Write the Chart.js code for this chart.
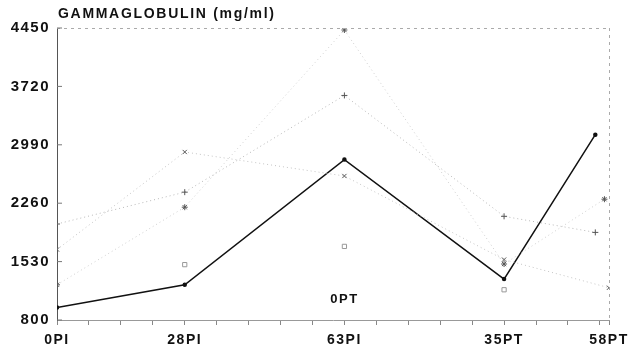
<!DOCTYPE html>
<html lang="en">
<head>
    <meta charset="UTF-8">
    <title>Gammaglobulin</title>
    <script src="https://cdn.jsdelivr.net/npm/chart.js"></script>
    <style>
        body { margin: 0; background: #fff; }
        canvas { display: block; }
    </style>
</head>
<body>
    <canvas id="gammaChart" width="628" height="349"></canvas>

    <script>
        // Axis labels / ticks
        const titleText = 'GAMMAGLOBULIN (mg/ml)';
        const tickDays = [0, 28, 63, 98, 121];
        const tickNames = ['0PI', '28PI', '63PI', '35PT', '58PT'];
        const minorDays = [7, 14, 21, 35, 42, 49, 56, 70, 77, 84, 91, 105, 112, 119];
        const yTicks = [800, 1530, 2260, 2990, 3720, 4450];

        // Sampling days (x) for each series
        const daysA = [0, 28, 63, 98, 118];
        const daysB = [0, 28, 63, 98, 121];
        const daysC = [0, 28, 63, 98, 120];
        const squareDays = [28, 63, 98];

        // Series values (mg/ml)
        const serBlack = [955, 1240, 2805, 1312, 3116];
        const serPlus = [2000, 2398, 3607, 2096, 1895];
        const serCross = [1681, 2900, 2600, 1555, 1203];
        const serStar = [1240, 2210, 4425, 1500, 2310];
        const serSquare = [1492, 1720, 1178];

        const toPoints = (days, vals) => vals.map((v, i) => ({ x: days[i], y: v }));

        const fontFam = '"Liberation Sans", Arial, sans-serif';

        // old plotter lettering is spaced out a bit
        const spacing = {
            id: 'spacing',
            beforeUpdate(chart) { chart.ctx.letterSpacing = '1.5px'; },
            beforeDraw(chart) { chart.ctx.letterSpacing = '1.5px'; }
        };

        // dashed frame on top / right, plus title and 0PT note
        const extras = {
            id: 'extras',
            afterDraw(chart) {
                const { ctx, chartArea: a, scales } = chart;
                ctx.save();
                ctx.strokeStyle = '#aaa';
                ctx.lineWidth = 1;
                ctx.setLineDash([3, 4]);
                ctx.beginPath();
                ctx.moveTo(a.left, a.top + 0.5);
                ctx.lineTo(a.right, a.top + 0.5);
                ctx.moveTo(a.right + 0.5, a.top);
                ctx.lineTo(a.right + 0.5, a.bottom);
                ctx.stroke();
                ctx.setLineDash([]);

                // small inner ticks on y axis
                ctx.strokeStyle = '#777';
                yTicks.forEach(t => {
                    const y = scales.y.getPixelForValue(t);
                    ctx.beginPath();
                    ctx.moveTo(a.left, y);
                    ctx.lineTo(a.left + 5, y);
                    ctx.stroke();
                });

                ctx.fillStyle = '#111';
                ctx.letterSpacing = '1.7px';
                ctx.font = 'bold 14px ' + fontFam;
                ctx.textAlign = 'left';
                ctx.textBaseline = 'alphabetic';
                ctx.fillText(titleText, a.left + 1, a.top - 10);

                ctx.letterSpacing = '1.5px';
                ctx.font = 'bold 13px ' + fontFam;
                ctx.textAlign = 'center';
                ctx.textBaseline = 'middle';
                ctx.fillText('0PT', scales.x.getPixelForValue(63), scales.y.getPixelForValue(1052));
                ctx.restore();
            }
        };

        const faint = (label, data, style, lineColor) => ({
            label: label,
            data: data,
            borderColor: lineColor,
            borderWidth: 1,
            borderDash: [1, 3],
            pointStyle: style,
            pointRadius: 3,
            pointBorderColor: '#555',
            pointBackgroundColor: 'rgba(0,0,0,0)',
            pointBorderWidth: 1,
            tension: 0
        });

        new Chart(document.getElementById('gammaChart'), {
            type: 'line',
            data: {
                datasets: [
                    faint('A', toPoints(daysA, serPlus), 'cross', '#b8b8b8'),
                    faint('B', toPoints(daysB, serCross), 'crossRot', '#c4c4c4'),
                    faint('C', toPoints(daysC, serStar), 'star', '#cfcfcf'),
                    {
                        label: 'D',
                        data: toPoints(squareDays, serSquare),
                        showLine: false,
                        pointStyle: 'rect',
                        pointRadius: 3,
                        pointBorderColor: '#999',
                        pointBackgroundColor: 'rgba(0,0,0,0)',
                        pointBorderWidth: 1
                    },
                    {
                        label: 'Main',
                        data: toPoints(daysA, serBlack),
                        borderColor: '#111',
                        borderWidth: 1.5,
                        pointRadius: 1.5,
                        pointBackgroundColor: '#111',
                        pointBorderColor: '#111',
                        tension: 0
                    }
                ]
            },
            options: {
                responsive: false,
                animation: false,
                layout: { padding: { top: 28, right: 0, left: 0, bottom: 0 } },
                plugins: {
                    legend: { display: false },
                    tooltip: { enabled: false }
                },
                scales: {
                    x: {
                        type: 'linear',
                        min: 0,
                        max: 121,
                        afterBuildTicks: s => {
                            s.ticks = tickDays.concat(minorDays).sort((a, b) => a - b).map(v => ({ value: v }));
                        },
                        afterFit: s => {
                            s.height = 29;
                            s.paddingLeft = 0;
                            s.paddingRight = 19;
                        },
                        ticks: {
                            autoSkip: false,
                            maxRotation: 0,
                            padding: 7,
                            color: '#111',
                            font: { family: fontFam, weight: 'bold', size: 14 },
                            callback: v => {
                                const i = tickDays.indexOf(v);
                                return i >= 0 ? tickNames[i] : '';
                            }
                        },
                        grid: {
                            drawOnChartArea: false,
                            tickLength: 5,
                            color: '#888'
                        },
                        border: { color: '#999', dash: [2, 3] }
                    },
                    y: {
                        min: 800,
                        max: 4450,
                        afterBuildTicks: s => { s.ticks = yTicks.map(v => ({ value: v })); },
                        afterFit: s => { s.width = 57; },
                        ticks: {
                            padding: 7,
                            color: '#111',
                            font: { family: fontFam, weight: 'bold', size: 15 },
                            callback: v => String(v)
                        },
                        grid: { drawOnChartArea: false, drawTicks: false },
                        border: { color: '#555', dash: [3, 2] }
                    }
                }
            },
            plugins: [spacing, extras]
        });
    </script>
</body>
</html>
